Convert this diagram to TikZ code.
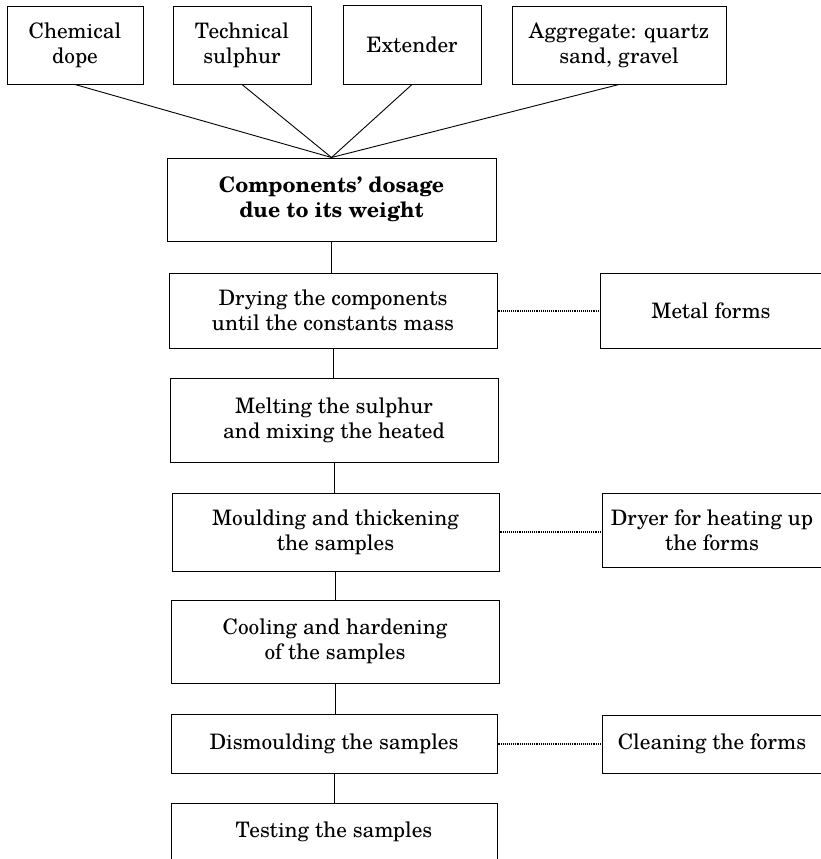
\documentclass[tikz,border=0pt]{standalone}
\usepackage{fontspec}
\setmainfont{texgyreschola}[Extension=.otf,UprightFont=*-regular,BoldFont=*-bold,ItalicFont=*-italic,BoldItalicFont=*-bolditalic]
\begin{document}
\begin{tikzpicture}[x=1pt,y=-1pt,
  box/.style={draw, line width=1pt, align=center, inner sep=0pt, font=\fontsize{21.3}{25}\selectfont},
  link/.style={line width=0.9pt},
  dotline/.style={line width=2pt, dash pattern=on 1pt off 0.9pt}]
\useasboundingbox (0,0) rectangle (821,859);
\clip (0,0) rectangle (821,859);
% top inputs
\node[box, minimum width=136pt, minimum height=77pt] (chem) at (75,45.5) {Chemical\\dope};
\node[box, minimum width=138pt, minimum height=77pt] (tech) at (242,45.5) {Technical\\sulphur};
\node[box, minimum width=138pt, minimum height=78pt] (ext) at (412,45) {Extender};
\node[box, minimum width=214pt, minimum height=77pt] (agg) at (619,45.5) {Aggregate: quartz\\sand, gravel};
% main column
\node[box, minimum width=329pt, minimum height=83pt] (comp) at (331.5,199.5) {\bfseries Components’ dosage\\\bfseries due to its weight};
\node[box, minimum width=328pt, minimum height=75pt] (dry) at (333,310.5) {Drying the components\\until the constants mass};
\node[box, minimum width=328pt, minimum height=84pt] (melt) at (334,420) {Melting the sulphur\\and mixing the heated};
\node[box, minimum width=327pt, minimum height=78pt] (mould) at (335.5,532) {Moulding and thickening\\the samples};
\node[box, minimum width=328pt, minimum height=83pt] (cool) at (335,641.5) {Cooling and hardening\\of the samples};
\node[box, minimum width=326pt, minimum height=59pt] (dism) at (334,743.5) {Dismoulding the samples};
\node[box, minimum width=326pt, minimum height=58pt] (test) at (334,832) {Testing the samples};
% side boxes
\node[box, minimum width=222pt, minimum height=75pt] (metal) at (711,310.5) {Metal forms};
\node[box, minimum width=220pt, minimum height=74pt] (dryer) at (712,530) {Dryer for heating up\\the forms};
\node[box, minimum width=220pt, minimum height=58pt] (clean) at (712,744) {Cleaning the forms};
% connectors from inputs
\draw[link] (chem.south) -- (comp.north);
\draw[link] (tech.south) -- (comp.north);
\draw[link] (ext.south) -- (comp.north);
\draw[link] (agg.south) -- (comp.north);
% vertical chain
\draw[link] (comp.south) -- (comp.south |- dry.north);
\draw[link] (dry.south) -- (dry.south |- melt.north);
\draw[link] (melt.south) -- (melt.south |- mould.north);
\draw[link] (mould.south) -- (mould.south |- cool.north);
\draw[link] (cool.south) -- (cool.south |- dism.north);
\draw[link] (dism.south) -- (dism.south |- test.north);
% dotted side links
\draw[dotline] (dry.east) -- (metal.west |- dry.east);
\draw[dotline] (mould.east) -- (dryer.west |- mould.east);
\draw[dotline] (dism.east) -- (clean.west |- dism.east);
\end{tikzpicture}
\end{document}
